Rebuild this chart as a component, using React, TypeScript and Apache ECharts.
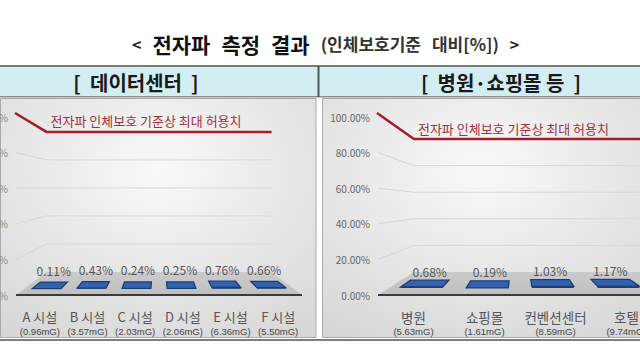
import React, { useEffect, useRef } from 'react';
import * as echarts from 'echarts';

// ---------- data ----------
const TITLE_MAIN = ['전자파', '측정', '결과'];
const TITLE_SUB = ['(인체보호기준', '대비[%])'];
const PANEL_TITLES = ['[  데이터센터  ]', '[  병원·쇼핑몰 등  ]'];
const STANDARD_LABEL = '전자파 인체보호 기준상 최대 허용치';
const STANDARD_VALUE = 100;
const Y_TICKS = [0, 20, 40, 60, 80, 100];

const DC_CATEGORIES = ['A 시설', 'B 시설', 'C 시설', 'D 시설', 'E 시설', 'F 시설'];
const DC_FIELD = ['0.96mG', '3.57mG', '2.03mG', '2.06mG', '6.36mG', '5.50mG'];
const DC_VALUES = [0.11, 0.43, 0.24, 0.25, 0.76, 0.66];

const PUB_CATEGORIES = ['병원', '쇼핑몰', '컨벤션센터', '호텔'];
const PUB_FIELD = ['5.63mG', '1.61mG', '8.59mG', '9.74mG'];
const PUB_VALUES = [0.68, 0.19, 1.03, 1.17];

// ---------- style ----------
const FONT = '"Noto Sans CJK KR", "Noto Sans", sans-serif';
const LATIN = '"Liberation Sans", Arial, sans-serif';

type Panel = {
  grid: { left: number; top: number; width: number; height: number };
  vyFrac: number;
  s: number;
  barDepth: [number, number];
  barWidth: number;
  wallToEdge: boolean;
  labelGap: number;
  catFont: number;
  yLabelColor: string;
};

const PANELS: Panel[] = [
  {
    grid: { left: 16, top: 117, width: 286, height: 178 },
    vyFrac: 0.393,
    s: 0.787,
    barDepth: [0.27, 0.55],
    barWidth: 0.64,
    wallToEdge: false,
    labelGap: 6,
    catFont: 13,
    yLabelColor: '#888',
  },
  {
    grid: { left: 378, top: 117, width: 284, height: 178 },
    vyFrac: 0.489,
    s: 0.747,
    barDepth: [0.3, 0.6],
    barWidth: 0.64,
    wallToEdge: true,
    labelGap: 3,
    catFont: 13.5,
    yLabelColor: '#666',
  },
];

function makeProj(cs: any, p: Panel) {
  const vx = cs.x + cs.width / 2;
  const vy = cs.y + cs.height * p.vyFrac;
  return (x: number, y: number, d: number): number[] => {
    const k = 1 - d * (1 - p.s);
    return [vx + (x - vx) * k, vy + (y - vy) * k];
  };
}

function wallsRender(p: Panel) {
  return (params: any, api: any) => {
    const cs = params.coordSys;
    const P = makeProj(cs, p);
    const xl = cs.x;
    const xr = cs.x + cs.width;
    const yOf = (v: number) => api.coord([0, v])[1];
    const backRight = (y: number) => {
      const pt = P(xr, y, 1);
      return p.wallToEdge ? [xr, pt[1]] : pt;
    };
    const std = api.value(1);
    const y0 = yOf(0);
    const children: any[] = [];
    children.push({
      type: 'polygon',
      shape: { points: [[xl, y0], [xr, y0], backRight(y0), P(xl, y0, 1)] },
      style: {
        fill: {
          type: 'linear', x: 0, y: 0, x2: 0, y2: 1,
          colorStops: [
            { offset: 0, color: '#cbcbcb' },
            { offset: 1, color: '#bfbfbf' },
          ],
        },
      },
    });
    Y_TICKS.forEach((v) => {
      if (v === 0 || v === std) return;
      const y = yOf(v);
      children.push({
        type: 'polyline',
        shape: { points: [[xl, y], P(xl, y, 1), backRight(y)] },
        style: { stroke: '#d6d6d6', lineWidth: 1, fill: null },
      });
    });
    const ys = yOf(std);
    const bls = P(xl, ys, 1);
    children.push({
      type: 'polyline',
      shape: { points: [[xl - 1, ys - 4], bls, backRight(ys)] },
      style: { stroke: '#a31d2b', lineWidth: 2.5, fill: null },
    });
    children.push({
      type: 'text',
      x: bls[0] + 4,
      y: bls[1] - 11,
      style: {
        text: STANDARD_LABEL,
        align: 'left',
        verticalAlign: 'middle',
        fill: '#a3303c',
        fontSize: 13,
        fontFamily: FONT,
      },
    });
    children.push({
      type: 'line',
      shape: { x1: xl, y1: y0, x2: xr, y2: y0 },
      style: { stroke: '#3a3a3a', lineWidth: 2 },
    });
    return { type: 'group', children };
  };
}

function barsRender(p: Panel) {
  return (params: any, api: any) => {
    const cs = params.coordSys;
    const P = makeProj(cs, p);
    const i = api.value(0);
    const v = api.value(1);
    const c = api.coord([i, v]);
    const cx = c[0];
    const y = c[1];
    const y0 = api.coord([i, 0])[1];
    const hw = (api.size([1, 0])[0] * p.barWidth) / 2;
    const [d1, d2] = p.barDepth;
    const top = [P(cx - hw, y, d1), P(cx + hw, y, d1), P(cx + hw, y, d2), P(cx - hw, y, d2)];
    const front = [P(cx - hw, y0, d1), P(cx + hw, y0, d1), P(cx + hw, y, d1), P(cx - hw, y, d1)];
    const lp = P(cx, y, d2);
    return {
      type: 'group',
      children: [
        { type: 'polygon', shape: { points: front }, style: { fill: '#1c3c78' } },
        {
          type: 'polygon',
          shape: { points: top },
          style: { fill: '#3262b0', stroke: '#1d3c76', lineWidth: 1.3 },
        },
        {
          type: 'text',
          x: lp[0],
          y: lp[1] - p.labelGap,
          style: {
            text: v.toFixed(2) + '%',
            align: 'center',
            verticalAlign: 'bottom',
            fill: '#555',
            fontSize: 12,
            fontFamily: FONT,
          },
        },
      ],
    };
  };
}

function catLabel(names: string[], fields: string[], size: number) {
  return {
    interval: 0,
    margin: 13,
    formatter: (_v: string, idx: number) => `{n|${names[idx]}}\n{m|(${fields[idx]})}`,
    rich: {
      n: { fontSize: size, color: '#555', lineHeight: 17, fontFamily: FONT },
      m: { fontSize: 9.5, color: '#444', lineHeight: 13, fontFamily: LATIN },
    },
  };
}

const chartBg = {
  type: 'radial',
  x: 0.5,
  y: 0.3,
  r: 0.85,
  colorStops: [
    { offset: 0, color: '#f9f9f9' },
    { offset: 1, color: '#d6d6d6' },
  ],
};

export default function App() {
  const ref = useRef<HTMLDivElement>(null);
  useEffect(() => {
    if (!ref.current) return;
    const chart = echarts.init(ref.current, undefined, { renderer: 'svg' });
    const sets = [
      { cats: DC_CATEGORIES, fields: DC_FIELD, vals: DC_VALUES },
      { cats: PUB_CATEGORIES, fields: PUB_FIELD, vals: PUB_VALUES },
    ];
    const titleText =
      '{a|<}{s| }' +
      TITLE_MAIN.map((w) => `{b|${w}}`).join('{s| }') +
      '{s| }' +
      TITLE_SUB.map((w) => `{c|${w}}`).join('{s| }') +
      '{s| }{a|>}';
    const option: any = {
      animation: false,
      textStyle: { fontFamily: FONT },
      title: {
        text: titleText,
        left: 127,
        top: 28,
        textStyle: {
          fontSize: 15,
          rich: {
            a: { fontSize: 16, color: '#222', fontFamily: FONT },
            b: { fontSize: 21, fontWeight: 'bold', color: '#111', fontFamily: FONT },
            c: { fontSize: 17, color: '#333', fontFamily: FONT },
            s: { width: 11, fontSize: 15 },
          },
        },
      },
      graphic: [
        { type: 'rect', z: -10, shape: { x: 0, y: 65, width: 640, height: 2 }, style: { fill: '#7b7b7b' } },
        { type: 'rect', z: -10, shape: { x: 0, y: 67, width: 640, height: 29 }, style: { fill: '#d3eef3' } },
        { type: 'rect', z: -10, shape: { x: 0, y: 96, width: 640, height: 1.5 }, style: { fill: '#8c8c8c' } },
        { type: 'rect', z: -10, shape: { x: 317.5, y: 66, width: 2, height: 31 }, style: { fill: '#555' } },
        {
          type: 'rect', z: -10,
          shape: { x: 0.5, y: 98.5, width: 315.5, height: 239 },
          style: { fill: chartBg, stroke: '#a9a9a9', lineWidth: 1 },
        },
        {
          type: 'rect', z: -10,
          shape: { x: 322.5, y: 98.5, width: 318, height: 239 },
          style: { fill: chartBg, stroke: '#a9a9a9', lineWidth: 1 },
        },
        { type: 'rect', z: -10, shape: { x: 0, y: 339, width: 640, height: 2 }, style: { fill: '#7e7e7e' } },
        {
          type: 'text', z: -5, x: 136, y: 82,
          style: {
            text: PANEL_TITLES[0], align: 'center', verticalAlign: 'middle',
            fontSize: 20, fontWeight: 'bold', fill: '#1a1a1a', fontFamily: FONT,
          },
        },
        {
          type: 'text', z: -5, x: 501, y: 82,
          style: {
            text: PANEL_TITLES[1], align: 'center', verticalAlign: 'middle',
            fontSize: 20, fontWeight: 'bold', fill: '#1a1a1a', fontFamily: FONT,
          },
        },
      ],
      grid: PANELS.map((p) => ({ ...p.grid, containLabel: false, outerBoundsMode: 'none' })),
      xAxis: PANELS.map((p, gi) => ({
        type: 'category',
        gridIndex: gi,
        data: sets[gi].cats,
        axisLine: { show: false },
        axisTick: { show: false },
        splitLine: { show: false },
        axisLabel: catLabel(sets[gi].cats, sets[gi].fields, p.catFont),
      })),
      yAxis: PANELS.map((p, gi) => ({
        type: 'value',
        gridIndex: gi,
        min: Y_TICKS[0],
        max: Y_TICKS[Y_TICKS.length - 1],
        interval: Y_TICKS[1] - Y_TICKS[0],
        axisLine: { show: false },
        axisTick: { show: false },
        splitLine: { show: false },
        axisLabel: {
          margin: 8,
          fontSize: 10,
          color: p.yLabelColor,
          formatter: (v: number) => v.toFixed(2) + '%',
        },
      })),
      series: PANELS.flatMap((p, gi) => [
        {
          type: 'custom',
          name: 'standard',
          xAxisIndex: gi,
          yAxisIndex: gi,
          silent: true,
          z: 1,
          renderItem: wallsRender(p),
          data: [[0, STANDARD_VALUE]],
        },
        {
          type: 'custom',
          name: 'values',
          xAxisIndex: gi,
          yAxisIndex: gi,
          silent: true,
          z: 3,
          renderItem: barsRender(p),
          data: sets[gi].vals.map((v, i) => [i, v]),
        },
      ]),
    };
    chart.setOption(option);
    return () => chart.dispose();
  }, []);
  return (
    <div
      ref={ref}
      style={{ position: 'fixed', left: 0, top: 0, width: 640, height: 360, background: '#fff' }}
    />
  );
}
